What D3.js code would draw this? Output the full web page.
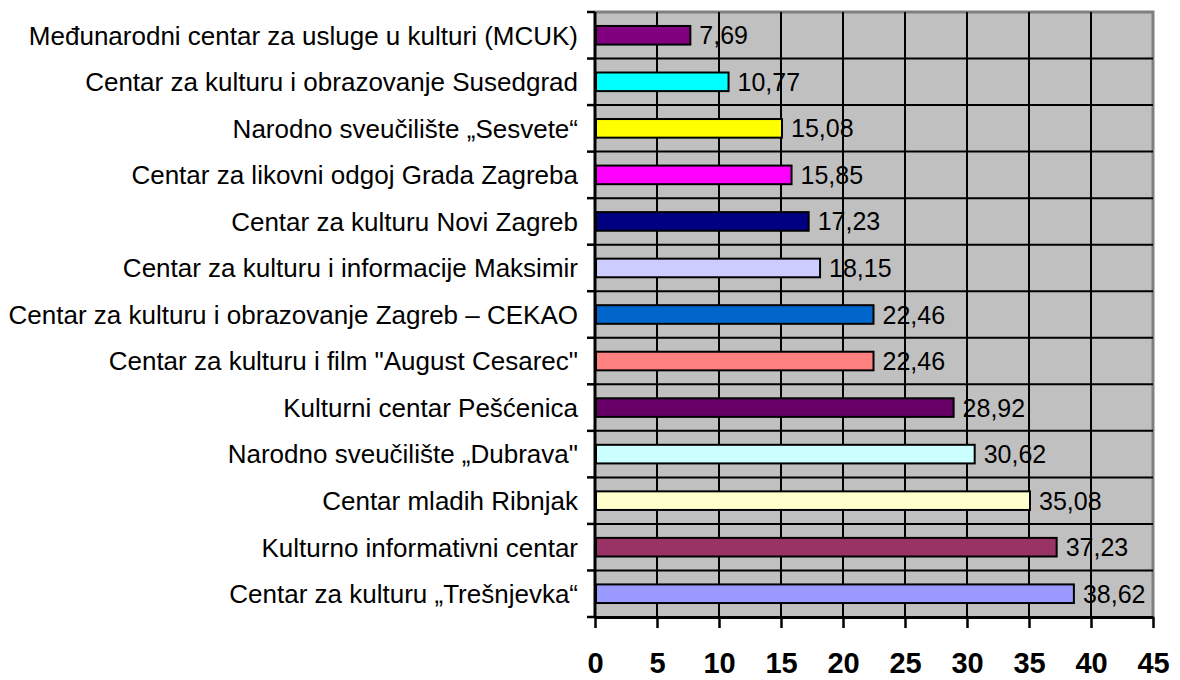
<!DOCTYPE html>
<html>
<head>
<meta charset="utf-8">
<script src="https://cdn.jsdelivr.net/npm/d3@7"></script>
<style>
  body { margin: 0; background: #fff; }
  svg text { font-family: "Liberation Sans", Arial, sans-serif; }
</style>
</head>
<body>
<div class="vis-barchart"></div>
<script>
const categories = [
  "Međunarodni centar za usluge u kulturi (MCUK)",
  "Centar za kulturu i obrazovanje Susedgrad",
  "Narodno sveučilište „Sesvete“",
  "Centar za likovni odgoj Grada Zagreba",
  "Centar za kulturu Novi Zagreb",
  "Centar za kulturu i informacije Maksimir",
  "Centar za kulturu i obrazovanje Zagreb – CEKAO",
  "Centar za kulturu i film \"August Cesarec\"",
  "Kulturni centar Pešćenica",
  "Narodno sveučilište „Dubrava\"",
  "Centar mladih Ribnjak",
  "Kulturno informativni centar",
  "Centar za kulturu „Trešnjevka“"
];
const values = [7.69, 10.77, 15.08, 15.85, 17.23, 18.15, 22.46, 22.46, 28.92, 30.62, 35.08, 37.23, 38.62];
const valueLabels = ["7,69", "10,77", "15,08", "15,85", "17,23", "18,15", "22,46", "22,46", "28,92", "30,62", "35,08", "37,23", "38,62"];
const barColors = ["#800080", "#00FFFF", "#FFFF00", "#FF00FF", "#000080", "#CCCCFF", "#0066CC",
  "#FF8080", "#660066", "#CCFFFF", "#FFFFCC", "#993366", "#9999FF"];
const xTicks = [0, 5, 10, 15, 20, 25, 30, 35, 40, 45];

const W = 1180, H = 680;
const margin = { top: 12, right: 27, bottom: 63, left: 595 };
const width = W - margin.left - margin.right;
const height = H - margin.top - margin.bottom;

const svg = d3.select(".vis-barchart")
  .append("svg")
  .attr("width", W)
  .attr("height", H)
  .append("g")
  .attr("transform", "translate(" + margin.left + "," + margin.top + ")");

const x = d3.scaleLinear().domain([0, 45]).range([0, width]);
const y = d3.scaleBand().domain(categories).range([0, height]).paddingInner(0.6).paddingOuter(0.3);
const step = y.step();

// plot background
svg.append("rect")
  .attr("x", 0).attr("y", 0)
  .attr("width", width).attr("height", height)
  .attr("fill", "#C0C0C0");

// top/right border
svg.append("path")
  .attr("d", "M0,0H" + width + "V" + height)
  .attr("fill", "none")
  .attr("stroke", "#808080")
  .attr("stroke-width", 3);

// vertical gridlines
svg.selectAll(".vgrid")
  .data(xTicks.slice(1, -1))
  .enter().append("line")
  .attr("x1", d => x(d)).attr("x2", d => x(d))
  .attr("y1", 0).attr("y2", height)
  .attr("stroke", "#000").attr("stroke-width", 2);

// horizontal gridlines at category boundaries
svg.selectAll(".hgrid")
  .data(categories.slice(1))
  .enter().append("line")
  .attr("x1", 0).attr("x2", width)
  .attr("y1", d => y(d) - step * 0.3).attr("y2", d => y(d) - step * 0.3)
  .attr("stroke", "#000").attr("stroke-width", 2);

// bars
svg.selectAll(".bar")
  .data(values)
  .enter().append("rect")
  .attr("x", x(0) + 1)
  .attr("y", (d, i) => y(categories[i]))
  .attr("width", d => x(d) - x(0) - 1)
  .attr("height", y.bandwidth())
  .attr("fill", (d, i) => barColors[i])
  .attr("stroke", "#000")
  .attr("stroke-width", 2);

// value labels
svg.selectAll(".val")
  .data(values)
  .enter().append("text")
  .attr("x", d => x(d) + 9)
  .attr("y", (d, i) => y(categories[i]) + y.bandwidth() / 2)
  .attr("dy", "0.36em")
  .attr("font-size", 25)
  .attr("fill", "#000")
  .text((d, i) => valueLabels[i]);

// left axis with ticks at category boundaries
const boundaries = d3.range(categories.length + 1).map(i => i * step);
svg.append("line")
  .attr("x1", 0).attr("x2", 0).attr("y1", 0).attr("y2", height)
  .attr("stroke", "#000").attr("stroke-width", 3);
svg.selectAll(".ytick")
  .data(boundaries)
  .enter().append("line")
  .attr("x1", -8).attr("x2", 0)
  .attr("y1", d => d).attr("y2", d => d)
  .attr("stroke", "#000").attr("stroke-width", 2.5);

svg.selectAll(".ylab")
  .data(categories)
  .enter().append("text")
  .attr("x", -17)
  .attr("y", d => y(d) + y.bandwidth() / 2)
  .attr("dy", "0.36em")
  .attr("text-anchor", "end")
  .attr("font-size", 26)
  .attr("fill", "#000")
  .text(d => d);

// bottom axis
const xAxis = svg.append("g")
  .attr("transform", "translate(0," + height + ")")
  .call(d3.axisBottom(x).tickValues(xTicks).tickSize(11).tickSizeOuter(0).tickPadding(24));
xAxis.select(".domain").attr("stroke", "#000").attr("stroke-width", 3);
xAxis.selectAll(".tick line").attr("stroke", "#000").attr("stroke-width", 2.5);
xAxis.selectAll(".tick text")
  .attr("font-size", 29)
  .attr("font-weight", "bold")
  .attr("font-family", "\"Liberation Sans\", Arial, sans-serif")
  .attr("fill", "#000");
</script>
</body>
</html>
